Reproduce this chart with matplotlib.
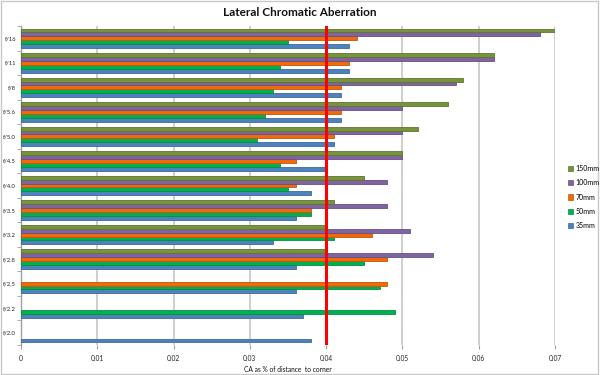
import numpy as np
import matplotlib
matplotlib.use("Agg")
import matplotlib.pyplot as plt
from matplotlib.patches import Rectangle, Patch

nan = np.nan
categories = ["f/2.0", "f/2.2", "f/2.5", "f/2.8", "f/3.2", "f/3.5", "f/4.0",
              "f/4.5", "f/5.0", "f/5.6", "f/8", "f/11", "f/16"]
series_names = ["35mm", "50mm", "70mm", "100mm", "150mm"]
s35 = [0.038, 0.037, 0.036, 0.036, 0.033, 0.036, 0.038, 0.040, 0.041, 0.042, 0.042, 0.043, 0.043]
s50 = [nan, 0.049, 0.047, 0.045, 0.041, 0.038, 0.035, 0.034, 0.031, 0.032, 0.033, 0.034, 0.035]
s70 = [nan, nan, 0.048, 0.048, 0.046, 0.038, 0.036, 0.036, 0.041, 0.042, 0.042, 0.043, 0.044]
s100 = [nan, nan, nan, 0.054, 0.051, 0.048, 0.048, 0.050, 0.050, 0.050, 0.057, 0.062, 0.068]
s150 = [nan, nan, nan, 0.040, 0.040, 0.041, 0.045, 0.050, 0.052, 0.056, 0.058, 0.062, 0.070]
threshold = 0.04
x_ticks = [0, 0.01, 0.02, 0.03, 0.04, 0.05, 0.06, 0.07]
x_ticklabels = ["0", "0.01", "0.02", "0.03", "0.04", "0.05", "0.06", "0.07"]

colors = ["#4F81BD", "#00B050", "#F06A0A", "#8064A2", "#77933C"]
edges = ["#3B6AA0", "#00933F", "#C85507", "#664E86", "#5E752E"]

plt.rcParams['font.family'] = ['Lato', 'DejaVu Sans']

fig = plt.figure(figsize=(6, 3.75), dpi=100)
fig.patch.set_facecolor("white")
fig.patches.append(Rectangle((0.002, 0.003), 0.995, 0.994, transform=fig.transFigure,
                             fill=False, edgecolor="#C8C8C8", linewidth=1.0))
ax = fig.add_axes([21/600, 1-345/375, (555-21)/600, (345-26)/375])

data = [s35, s50, s70, s100, s150]
w = 0.158
y = np.arange(len(categories))
for i, (vals, c, e) in enumerate(zip(data, colors, edges)):
    off = (i - 2) * w
    ax.barh(y + off, vals, height=w, color=c, edgecolor=e, linewidth=0.6,
            label=series_names[i], zorder=3)

ax.axvline(threshold, color="#FF0000", linewidth=2.2, zorder=5)

ax.set_xlim(0, 0.07)
ax.set_ylim(-0.5, len(categories) - 0.5)
ax.set_xticks(x_ticks)
ax.set_xticklabels(x_ticklabels)
ax.set_yticks(y)
ax.set_yticklabels(categories)
ax.set_yticks(np.arange(len(categories) + 1) - 0.5, minor=True)
ax.tick_params(axis='y', which='major', length=0, labelsize=4.2, pad=3.6, colors="#222222")
ax.tick_params(axis='y', which='minor', length=3, color="#A0A0A0", direction='out')
ax.tick_params(axis='x', length=3, color="#A0A0A0", labelsize=4.8, pad=4, labelcolor="#222222")
ax.grid(axis='x', color="#C6C6C6", linewidth=1.2, zorder=0)
ax.set_axisbelow(True)
for s in ["top", "right", "bottom"]:
    ax.spines[s].set_visible(False)
ax.spines["left"].set_color("#A0A0A0")
ax.spines["left"].set_linewidth(1.0)

ax.set_xlabel("CA as % of distance  to corner", fontsize=4.8, labelpad=3, color="#111111")
fig.text(0.5, 1-12/375, "Lateral Chromatic Aberration", ha="center", va="center",
         fontsize=8.5, fontweight="bold", color="#111111")

handles = [Patch(facecolor=colors[i], edgecolor=edges[i], linewidth=0.5) for i in range(5)][::-1]
labels = series_names[::-1]
fig.legend(handles, labels, loc="center left", bbox_to_anchor=(565/600, 1-197/375),
           frameon=False, fontsize=5, handlelength=0.8, handleheight=0.8,
           handletextpad=0.3, labelspacing=1.05, borderaxespad=0)

fig.savefig("out.png", dpi=100)
